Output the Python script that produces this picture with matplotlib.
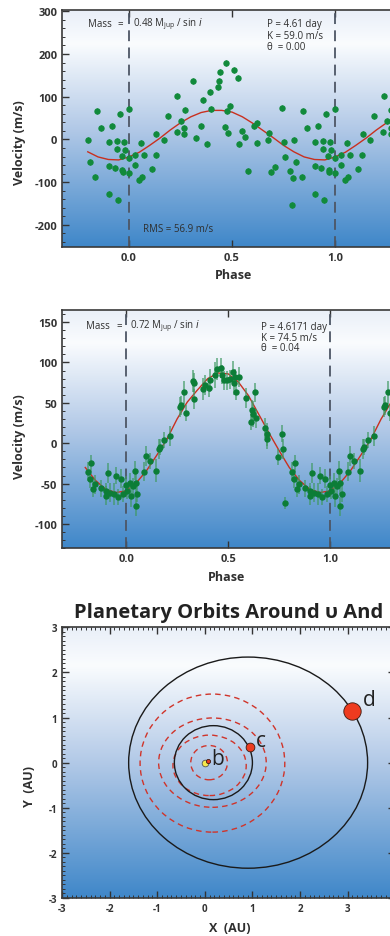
import numpy as np
import matplotlib

matplotlib.use("Agg")
import matplotlib.pyplot as plt  # noqa: E402
from matplotlib.colors import LinearSegmentedColormap  # noqa: E402
from matplotlib.patches import Ellipse  # noqa: E402
from matplotlib.ticker import MultipleLocator  # noqa: E402

plt.rcParams["font.family"] = ["Open Sans", "DejaVu Sans"]
plt.rcParams["axes.unicode_minus"] = False
plt.rcParams["mathtext.default"] = "regular"

# ---- top panel: old data set (phase in [0, 1), velocity m/s) ----
phase1 = [0.000, 0.031, 0.031, 0.050, 0.057, 0.061, 0.073, 0.113, 0.129, 0.133,
          0.168, 0.189, 0.233, 0.235, 0.252, 0.269, 0.269, 0.270, 0.309, 0.324,
          0.350, 0.359, 0.380, 0.395, 0.398, 0.430, 0.439, 0.442, 0.468, 0.471,
          0.476, 0.479, 0.489, 0.510, 0.528, 0.534, 0.550, 0.563, 0.576, 0.607,
          0.620, 0.621, 0.675, 0.681, 0.689, 0.710, 0.741, 0.754, 0.755, 0.782,
          0.790, 0.794, 0.799, 0.809, 0.837, 0.845, 0.862, 0.901, 0.903, 0.904,
          0.916, 0.930, 0.940, 0.943, 0.945, 0.958, 0.964, 0.968, 0.972, 0.976,
          0.981, 0.998, 0.999]
vel1 = [71, -59, -36, -95, -9, -89, -36, -69, -36, 12,
        -2, 55, 18, 102, 43, 26, 12, 68, 137, 3,
        32, 93, -10, 110, 71, 122, 137, 159, 28, 178,
        66, 14, 79, 163, 144, -10, 20, 5, -73, 32,
        38, -9, -1, 14, -77, -65, 73, -5, -42, -73,
        -153, -91, -2, -52, -89, 67, 27, -7, -128, -63,
        32, -67, -23, -3, -143, 60, -38, -72, -77, -7,
        -24, -43, -79]
err1 = 7.0

# fitted curve, one cycle at phase steps of 0.05
fit_phase = [0.00, 0.05, 0.10, 0.15, 0.20, 0.25, 0.30, 0.35, 0.40, 0.45,
             0.50, 0.55, 0.60, 0.65, 0.70, 0.75, 0.80, 0.85, 0.90, 0.95]
fit1 = [-41, -30, -14, 3, 22, 39, 53, 63, 68, 68,
        64, 53, 38, 21, 4, -14, -29, -41, -47, -48]

# ---- middle panel: new data set ----
phase2 = [0.000, 0.003, 0.020, 0.023, 0.033, 0.044, 0.047, 0.049, 0.056, 0.088,
          0.098, 0.118, 0.145, 0.162, 0.167, 0.185, 0.216, 0.265, 0.270, 0.284,
          0.292, 0.327, 0.333, 0.333, 0.379, 0.387, 0.407, 0.412, 0.436, 0.444,
          0.464, 0.472, 0.480, 0.497, 0.507, 0.525, 0.529, 0.533, 0.538, 0.554,
          0.590, 0.611, 0.618, 0.621, 0.631, 0.636, 0.680, 0.690, 0.690, 0.745,
          0.765, 0.768, 0.778, 0.814, 0.824, 0.830, 0.840, 0.846, 0.876, 0.902,
          0.904, 0.913, 0.922, 0.941, 0.953, 0.961, 0.974, 0.987]
vel2 = [-52, -59, -49, -65, -53, -34, -49, -78, -63, -35,
        -16, -22, -34, -7, -5, 4, 9, 45, 47, 63,
        37, 77, 75, 55, 67, 72, 69, 78, 85, 92,
        93, 85, 78, 78, 79, 88, 74, 82, 63, 82,
        56, 26, 41, 36, 63, 31, 19, 11, 5, -17,
        12, -7, -74, -35, -44, -25, -57, -51, -56, -59,
        -65, -37, -61, -63, -40, -67, -44, -63]
err2 = [12, 10, 12, 14, 10, 12, 14, 12, 10, 12,
        12, 10, 14, 12, 10, 10, 12, 12, 12, 14,
        10, 14, 12, 12, 14, 12, 12, 14, 16, 14,
        12, 12, 12, 12, 12, 14, 14, 10, 10, 12,
        12, 10, 12, 16, 12, 12, 12, 14, 12, 10,
        10, 12, 8, 12, 12, 10, 10, 12, 10, 10,
        12, 12, 12, 14, 10, 10, 12, 10]
fit2 = [-59, -49, -34, -15, 5, 30, 51, 66, 80, 87,
        86, 76, 59, 36, 13, -9, -30, -46, -57, -61]

# ---- bottom panel: orbits (AU) ----
orbit_cx = [0.18, 0.91]          # upsilon And c, d
orbit_rx = [0.82, 2.51]
orbit_ry = [0.82, 2.34]
ring_cx = [0.09, 0.10, 0.16, 0.16]   # Mercury, Venus, Earth, Mars for scale
ring_cy = [0.0, -0.06, 0.0, -0.01]
ring_rx = [0.385, 0.77, 1.13, 1.52]
ring_ry = [0.38, 0.67, 0.99, 1.53]
planet_names = ["b", "c", "d"]
planet_x = [0.06, 0.95, 3.09]
planet_y = [0.03, 0.35, 1.14]
label_x = [0.14, 1.08, 3.32]
label_y = [-0.03, 0.375, 1.28]
star_x, star_y = 0.0, 0.0

phase_ticks = [0.0, 0.5, 1.0]
phase_labels = ["0.0", "0.5", "1.0"]
v1_ticks = [-200, -100, 0, 100, 200, 300]
v2_ticks = [-100, -50, 0, 50, 100, 150]
au_ticks = [-3, -2, -1, 0, 1, 2, 3]

GREEN = "#118a3b"
RED = "#c9301f"
TXT = "#2f2f2f"

sky = LinearSegmentedColormap.from_list(
    "sky", [(0.0, "#3f87c9"), (0.5, "#b2c9e7"), (0.86, "#fafcfe"), (1.0, "#e9eff8")])


def backdrop(ax, xlim, ylim):
    grad = np.linspace(0, 1, 256).reshape(-1, 1)
    ax.imshow(grad, extent=[xlim[0], xlim[1], ylim[0], ylim[1]], origin="lower",
              aspect="auto", cmap=sky, zorder=0)
    ax.set_xlim(xlim)
    ax.set_ylim(ylim)


def style(ax, xticks, xlabels, yticks, size=8):
    ax.set_xticks(xticks, labels=xlabels, fontweight="bold")
    ax.set_yticks(yticks, labels=[str(t) for t in yticks], fontweight="bold")
    ax.tick_params(which="both", direction="in", top=True, right=True,
                   colors="#333333", labelsize=size, pad=3.5)
    ax.tick_params(which="major", length=5, width=1)
    ax.tick_params(which="minor", length=2.5, width=0.7)
    for s in ax.spines.values():
        s.set_color("#3a3a3a")
        s.set_linewidth(1.2)


def wrap(ph, vals, lo, hi):
    # repeat one cycle so it covers the phase window
    ph = np.asarray(ph)
    vals = np.asarray(vals)
    xs = np.concatenate([ph - 1, ph, ph + 1])
    ys = np.concatenate([vals, vals, vals])
    keep = (xs >= lo) & (xs <= hi)
    return xs[keep], ys[keep], np.concatenate([np.arange(len(ph))] * 3)[keep]


fig = plt.figure(figsize=(3.9, 9.37), dpi=100)

# ---------------- panel 1 ----------------
ax1 = fig.add_axes([0.159, 0.7353, 0.872, 0.2529])
xl1 = (-0.325, 1.325)
backdrop(ax1, xl1, (-252, 303))
for x in (0.0, 1.0):
    ax1.axvline(x, color="#4d5665", lw=1.3, ls=(0, (6, 3.5)), zorder=2)
cx, cy, _ = wrap(fit_phase, fit1, -0.2, 1.4)
ax1.plot(cx, cy, color=RED, lw=1.0, zorder=3)
px, py, _ = wrap(phase1, vel1, -0.205, xl1[1])
ax1.errorbar(px, py, yerr=err1, fmt="o", ms=3.6, color=GREEN, ecolor=GREEN,
             elinewidth=0.9, capsize=0, zorder=4)
style(ax1, phase_ticks, phase_labels, v1_ticks)
ax1.yaxis.set_minor_locator(MultipleLocator(20))
ax1.set_xlabel("Phase", fontsize=9, fontweight="bold", color=TXT)
ax1.set_ylabel("Velocity (m/s)", fontsize=9, fontweight="bold", color=TXT)
ax1.xaxis.set_label_coords(0.503, -0.114)
ax1.yaxis.set_label_coords(-0.126, 0.443)
ax1.xaxis.label.set_va("center")
ax1.yaxis.label.set_va("center")
ax1.text(-0.199, 272, "Mass", fontsize=7, color=TXT, va="center")
ax1.text(-0.058, 272, "=", fontsize=7, color=TXT, va="center")
ax1.text(0.019, 272, r"0.48 M$_{jup}$ / sin $\mathit{i}$", fontsize=7, color=TXT, va="center")
ax1.text(0.67, 272, "P = 4.61 day", fontsize=7, color=TXT, va="center")
ax1.text(0.67, 244, "K = 59.0 m/s", fontsize=7, color=TXT, va="center")
ax1.text(0.67, 218, "θ  = 0.00", fontsize=7, color=TXT, va="center")
ax1.text(0.068, -208, "RMS = 56.9 m/s", fontsize=7, color=TXT, va="center")

# ---------------- panel 2 ----------------
ax2 = fig.add_axes([0.159, 0.4138, 0.86, 0.2543])
xl2 = (-0.314, 1.33)
backdrop(ax2, xl2, (-130, 165))
for x in (0.0, 1.0):
    ax2.axvline(x, color="#4d5665", lw=1.3, ls=(0, (6, 3.5)), zorder=2)
cx, cy, _ = wrap(fit_phase, fit2, -0.2, 1.4)
ax2.plot(cx, cy, color=RED, lw=1.0, zorder=3)
px, py, idx = wrap(phase2, vel2, -0.2, xl2[1])
pe = np.asarray(err2)[idx]
ax2.errorbar(px, py, yerr=pe, fmt="none", ecolor="#3f9a62", elinewidth=1.2,
             alpha=0.75, capsize=0, zorder=4)
ax2.plot(px, py, "o", ms=3.6, color="#0c7d37", zorder=5)
style(ax2, phase_ticks, phase_labels, v2_ticks)
ax2.yaxis.set_minor_locator(MultipleLocator(10))
ax2.set_xlabel("Phase", fontsize=9, fontweight="bold", color=TXT)
ax2.set_ylabel("Velocity (m/s)", fontsize=9, fontweight="bold", color=TXT)
ax2.xaxis.set_label_coords(0.491, -0.1175)
ax2.yaxis.set_label_coords(-0.128, 0.471)
ax2.xaxis.label.set_va("center")
ax2.yaxis.label.set_va("center")
ax2.text(-0.196, 146, "Mass", fontsize=7, color=TXT, va="center")
ax2.text(-0.046, 146, "=", fontsize=7, color=TXT, va="center")
ax2.text(0.02, 146, r"0.72 M$_{jup}$ / sin $\mathit{i}$", fontsize=7, color=TXT, va="center")
ax2.text(0.66, 145, "P = 4.6171 day", fontsize=7, color=TXT, va="center")
ax2.text(0.66, 131.5, "K = 74.5 m/s", fontsize=7, color=TXT, va="center")
ax2.text(0.66, 118, "θ  = 0.04", fontsize=7, color=TXT, va="center")

# ---------------- panel 3 ----------------
ax3 = fig.add_axes([0.159, 0.04056, 0.8544, 0.2889])
backdrop(ax3, (-3, 4), (-3, 3))
for cxr, cyr, rx, ry in zip(ring_cx, ring_cy, ring_rx, ring_ry):
    ax3.add_patch(Ellipse((cxr, cyr), 2 * rx, 2 * ry, fill=False, ec="#d0342a",
                          lw=1.0, ls=(0, (4, 3)), zorder=2))
for ox, rx, ry in zip(orbit_cx, orbit_rx, orbit_ry):
    ax3.add_patch(Ellipse((ox, 0), 2 * rx, 2 * ry, fill=False, ec="#1a1a1a",
                          lw=1.0, zorder=3))
ax3.plot(star_x, star_y, "o", ms=4.8, mfc="#f7e94c", mec="#555555", mew=0.6, zorder=4)
for name, x, y, ms in zip(planet_names, planet_x, planet_y, [3.0, 6.3, 12.5]):
    ax3.plot(x, y, "o", ms=ms, mfc="#ee3b1f", mec="#3a1a10", mew=0.6, zorder=5)
for name, x, y in zip(planet_names, label_x, label_y):
    ax3.text(x, y, name, fontsize=15, color="#222222", va="baseline", zorder=6)
style(ax3, au_ticks, [str(t) for t in au_ticks], au_ticks, size=7)
ax3.xaxis.set_minor_locator(MultipleLocator(0.1))
ax3.yaxis.set_minor_locator(MultipleLocator(0.1))
ax3.set_xlabel("X  (AU)", fontsize=9, fontweight="bold", color=TXT)
ax3.set_ylabel("Y  (AU)", fontsize=9, fontweight="bold", color=TXT)
ax3.xaxis.set_label_coords(0.504, -0.108)
ax3.yaxis.set_label_coords(-0.099, 0.415)
ax3.xaxis.label.set_va("center")
ax3.yaxis.label.set_va("center")
ax3.text(0.5, 1.0565, "Planetary Orbits Around υ And", transform=ax3.transAxes,
         ha="center", va="center", fontsize=14.5, fontweight="bold", color="#222222")

fig.savefig("out.png", dpi=100)
